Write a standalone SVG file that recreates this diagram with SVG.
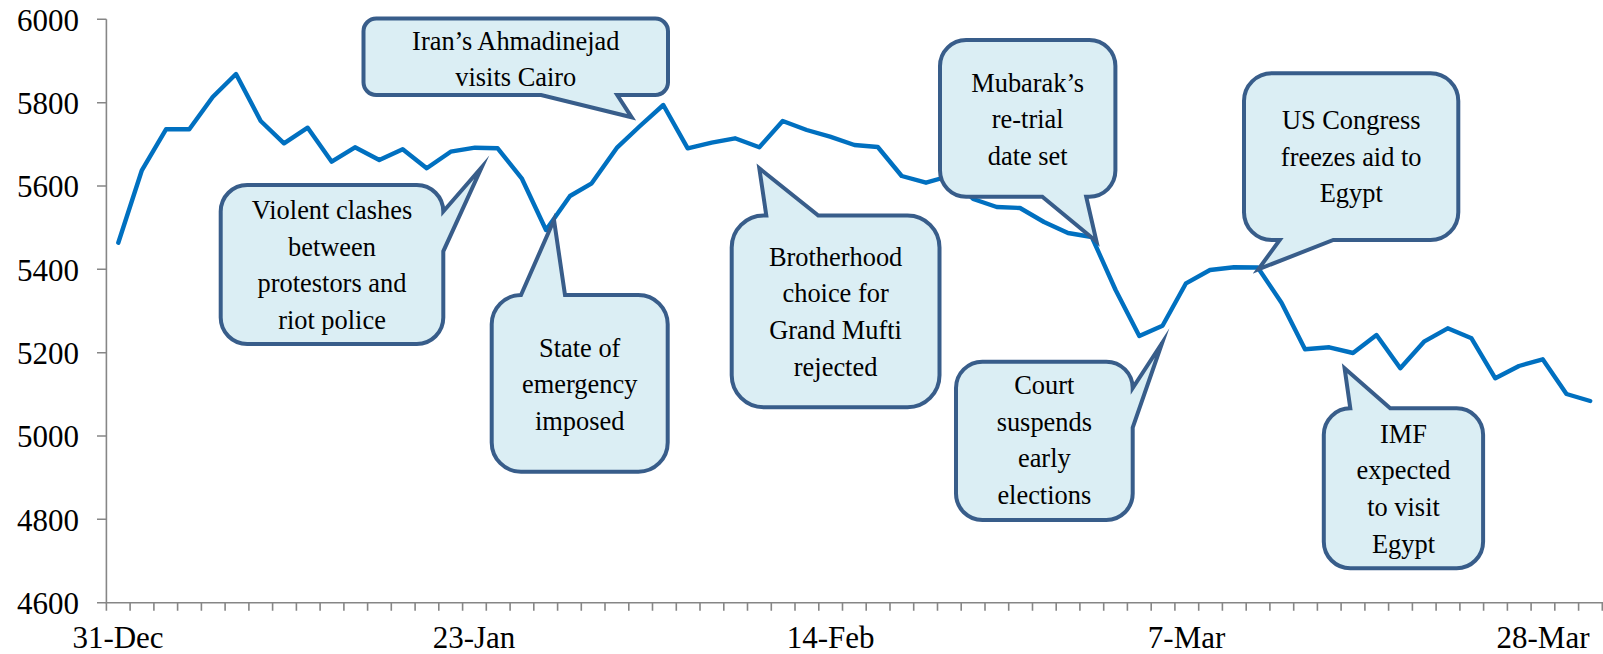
<svg xmlns="http://www.w3.org/2000/svg" width="1603" height="654" viewBox="0 0 1603 654">
<style>
.ax{stroke:#868686;stroke-width:1.6;fill:none}
.yl{font-family:"Liberation Serif","Times New Roman",serif;font-size:31px;fill:#000;text-anchor:end}
.xl{font-family:"Liberation Serif","Times New Roman",serif;font-size:31px;fill:#000;text-anchor:middle}
.series{stroke:#0070C0;stroke-width:4.4;fill:none;stroke-linejoin:round;stroke-linecap:round}
.co{fill:#DBEEF4;stroke:#385D8A;stroke-width:4;stroke-linejoin:miter;stroke-miterlimit:10}
.ct{font-family:"Liberation Serif","Times New Roman",serif;font-size:26.4px;fill:#000;text-anchor:middle}
</style>
<rect width="1603" height="654" fill="#fff"/>
<g id="axes">
<path class="ax" d="M106.4,19.3V602.7H1603"/>
<path class="ax" d="M97,19.3H106.4M97,102.7H106.4M97,186H106.4M97,269.3H106.4M97,352.7H106.4M97,436H106.4M97,519.3H106.4M97,602.7H106.4"/>
<path class="ax" d="M106.4,602.7v8M130.1,602.7v8M153.9,602.7v8M177.6,602.7v8M201.4,602.7v8M225.1,602.7v8M248.9,602.7v8M272.6,602.7v8M296.4,602.7v8M320.1,602.7v8M343.9,602.7v8M367.6,602.7v8M391.3,602.7v8M415.1,602.7v8M438.8,602.7v8M462.6,602.7v8M486.3,602.7v8M510.1,602.7v8M533.8,602.7v8M557.6,602.7v8M581.3,602.7v8M605.0,602.7v8M628.8,602.7v8M652.5,602.7v8M676.3,602.7v8M700.0,602.7v8M723.8,602.7v8M747.5,602.7v8M771.3,602.7v8M795.0,602.7v8M818.8,602.7v8M842.5,602.7v8M866.2,602.7v8M890.0,602.7v8M913.7,602.7v8M937.5,602.7v8M961.2,602.7v8M985.0,602.7v8M1008.7,602.7v8M1032.5,602.7v8M1056.2,602.7v8M1079.9,602.7v8M1103.7,602.7v8M1127.4,602.7v8M1151.2,602.7v8M1174.9,602.7v8M1198.7,602.7v8M1222.4,602.7v8M1246.2,602.7v8M1269.9,602.7v8M1293.7,602.7v8M1317.4,602.7v8M1341.1,602.7v8M1364.9,602.7v8M1388.6,602.7v8M1412.4,602.7v8M1436.1,602.7v8M1459.9,602.7v8M1483.6,602.7v8M1507.4,602.7v8M1531.1,602.7v8M1554.8,602.7v8M1578.6,602.7v8M1602.3,602.7v8"/>
<text class="yl" x="79" y="30.5">6000</text>
<text class="yl" x="79" y="113.9">5800</text>
<text class="yl" x="79" y="197.2">5600</text>
<text class="yl" x="79" y="280.5">5400</text>
<text class="yl" x="79" y="363.9">5200</text>
<text class="yl" x="79" y="447.2">5000</text>
<text class="yl" x="79" y="530.5">4800</text>
<text class="yl" x="79" y="613.9">4600</text>
<text class="xl" x="118" y="648">31-Dec</text>
<text class="xl" x="474" y="648">23-Jan</text>
<text class="xl" x="830.6" y="648">14-Feb</text>
<text class="xl" x="1186.6" y="648">7-Mar</text>
<text class="xl" x="1543" y="648">28-Mar</text>
</g>
<g id="connectors">
<polyline class="series" points="118.3,242.7 141.7,170.7 166,129.3 189.3,129.3 212.7,97 236,74 260.7,121 284,143.3 307.7,127.7 331.7,161.7 355,147.3 379.3,160 402.7,149.3 426.7,168.3 450.7,151.7 475,147.7 497.7,148.3 521.7,178.3 546,230 570,196 591.7,183.3 617.3,147.3 640,126 663.3,105 687.7,148.3 711.7,142.7 735,138.3 759.3,147.3 782.7,121 806.7,130 830,136.7 854.4,145 877.8,147 901.7,176 926,182.7 949.5,176 973.2,199 996.7,207 1020,208 1044,222 1068,233 1091.8,237 1115.6,290 1139.3,336 1162.5,325.7 1186,283.3 1210,270 1234,267.3 1257.8,267.5 1281.5,302.7 1305,349.3 1329.3,347.3 1353,353 1376.5,335 1400.3,368.3 1424,341.7 1447.7,328.3 1471.5,338.3 1495.3,378.3 1519,366 1542.7,359.3 1566.5,394 1590.2,401"/>
</g>
<g id="callout-violent">
<path class="co" d="M247.2,185H416.8A26.5,26.5 0 0 1 443.3,211.5L481.7,167.3L443.3,251.3V317.5A26.5,26.5 0 0 1 416.8,344H247.2A26.5,26.5 0 0 1 220.7,317.5V211.5A26.5,26.5 0 0 1 247.2,185Z"/>
<text class="ct" x="332" y="219">Violent clashes</text>
<text class="ct" x="332" y="255.5">between</text>
<text class="ct" x="332" y="292">protestors and</text>
<text class="ct" x="332" y="328.5">riot police</text>
</g>
<g id="callout-iran">
<path class="co" d="M376.25,18.5H655.25A12.75,12.75 0 0 1 668,31.25V82.25A12.75,12.75 0 0 1 655.25,95H617.25L631.7,117.3L541.1,95H376.25A12.75,12.75 0 0 1 363.5,82.25V31.25A12.75,12.75 0 0 1 376.25,18.5Z"/>
<text class="ct" x="515.8" y="49.5">Iran’s Ahmadinejad</text>
<text class="ct" x="515.8" y="86">visits Cairo</text>
</g>
<g id="callout-state">
<path class="co" d="M491.7,324.3A29.3,29.3 0 0 1 521,295L554,220L565,295H638.4A29.3,29.3 0 0 1 667.7,324.3V442.4A29.3,29.3 0 0 1 638.4,471.7H521A29.3,29.3 0 0 1 491.7,442.4Z"/>
<text class="ct" x="579.7" y="356.5">State of</text>
<text class="ct" x="579.7" y="393.3">emergency</text>
<text class="ct" x="579.7" y="430">imposed</text>
</g>
<g id="callout-brotherhood">
<path class="co" d="M731.7,247.5A32,32 0 0 1 763.7,215.5H766.3L759.3,168.3L818.3,215.5H907.5A32,32 0 0 1 939.5,247.5V375.3A32,32 0 0 1 907.5,407.3H763.7A32,32 0 0 1 731.7,375.3Z"/>
<text class="ct" x="835.6" y="265.7">Brotherhood</text>
<text class="ct" x="835.6" y="302.3">choice for</text>
<text class="ct" x="835.6" y="339">Grand Mufti</text>
<text class="ct" x="835.6" y="375.5">rejected</text>
</g>
<g id="callout-mubarak">
<path class="co" d="M966.1,40H1089.3A26.1,26.1 0 0 1 1115.4,66.1V170.6A26.1,26.1 0 0 1 1089.3,196.7H1086.2L1096.5,241.5L1042.3,196.7H966.1A26.1,26.1 0 0 1 940,170.6V66.1A26.1,26.1 0 0 1 966.1,40Z"/>
<text class="ct" x="1027.7" y="91.7">Mubarak’s</text>
<text class="ct" x="1027.7" y="128.3">re-trial</text>
<text class="ct" x="1027.7" y="164.5">date set</text>
</g>
<g id="callout-court">
<path class="co" d="M982.4,361.7H1106.3A26.4,26.4 0 0 1 1132.7,388.1L1162.1,343L1132.7,427.6V493.6A26.4,26.4 0 0 1 1106.3,520H982.4A26.4,26.4 0 0 1 956,493.6V388.1A26.4,26.4 0 0 1 982.4,361.7Z"/>
<text class="ct" x="1044.3" y="394">Court</text>
<text class="ct" x="1044.3" y="430.7">suspends</text>
<text class="ct" x="1044.3" y="467.3">early</text>
<text class="ct" x="1044.3" y="504.3">elections</text>
</g>
<g id="callout-uscongress">
<path class="co" d="M1271.8,73.3H1430.5A27.8,27.8 0 0 1 1458.3,101.1V212.2A27.8,27.8 0 0 1 1430.5,240H1333.3L1258.3,269.3L1279.7,240H1271.8A27.8,27.8 0 0 1 1244,212.2V101.1A27.8,27.8 0 0 1 1271.8,73.3Z"/>
<text class="ct" x="1351.2" y="129">US Congress</text>
<text class="ct" x="1351.2" y="165.5">freezes aid to</text>
<text class="ct" x="1351.2" y="202">Egypt</text>
</g>
<g id="callout-imf">
<path class="co" d="M1323.8,434.8A26.5,26.5 0 0 1 1350.3,408.3L1344.6,368.3L1390.2,408.3H1456.6A26.5,26.5 0 0 1 1483.1,434.8V541.8A26.5,26.5 0 0 1 1456.6,568.3H1350.3A26.5,26.5 0 0 1 1323.8,541.8Z"/>
<text class="ct" x="1403.5" y="442.7">IMF</text>
<text class="ct" x="1403.5" y="479.3">expected</text>
<text class="ct" x="1403.5" y="516.3">to visit</text>
<text class="ct" x="1403.5" y="553">Egypt</text>
</g>
</svg>
